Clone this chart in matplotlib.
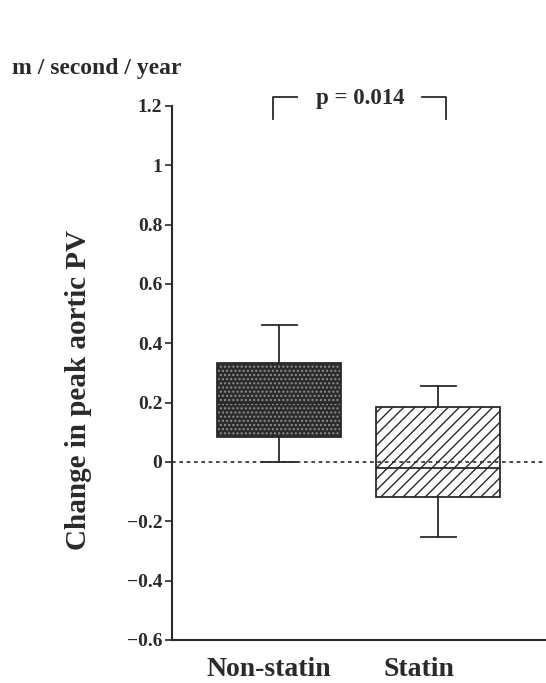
import matplotlib
matplotlib.use("Agg")
import matplotlib.pyplot as plt
from matplotlib.patches import PathPatch

# values (m / second / year)
groups = ["Non-statin", "Statin"]
whisker_low = [0.0, -0.253]
quart_1 = [0.084, -0.118]
medians = [0.20, -0.02]
quart_3 = [0.334, 0.185]
whisker_high = [0.462, 0.256]
p_text = "p = 0.014"

plt.rcParams["font.family"] = ["Liberation Serif", "DejaVu Serif"]
plt.rcParams["font.weight"] = "bold"
plt.rcParams["hatch.linewidth"] = 1.0
INK = "#2a2a2a"

fig = plt.figure(figsize=(5.46, 6.83), dpi=100)
ax = fig.add_axes([0.315, 0.063, 0.685, 0.782])

stats = [
    dict(label=g, whislo=lo, q1=a, med=m, q3=b, whishi=hi, fliers=[])
    for g, lo, a, m, b, hi in zip(
        groups, whisker_low, quart_1, medians, quart_3, whisker_high
    )
]
positions = [1, 2]
art = ax.bxp(
    stats,
    positions=positions,
    widths=0.775,
    patch_artist=True,
    showfliers=False,
    boxprops=dict(linewidth=1.3, edgecolor=INK),
    whiskerprops=dict(linewidth=1.3, color=INK),
    capprops=dict(linewidth=1.3, color=INK),
    medianprops=dict(linewidth=1.3, color=INK),
    capwidths=0.22,
    zorder=3,
)

# dark stippled box for non-statin
b0 = art["boxes"][0]
b0.set_facecolor("#2c2c2c")
b0.set_edgecolor("#8e8e8e")
b0.set_hatch("....")
b0.set_linewidth(0)
ax.add_patch(PathPatch(b0.get_path(), fill=False, edgecolor=INK,
                       linewidth=1.3, zorder=4))

# hatched box for statin
b1 = art["boxes"][1]
b1.set_facecolor("white")
b1.set_hatch("///")

# zero reference line
ax.axhline(0, color=INK, linestyle=(0, (2.2, 2.2)), linewidth=1.2,
           zorder=5, clip_on=False)

ax.set_xlim(0.327, 2.679)
ax.set_ylim(-0.6, 1.2)
ax.set_yticks([-0.6, -0.4, -0.2, 0, 0.2, 0.4, 0.6, 0.8, 1, 1.2])
ax.set_yticklabels(["\u22120.6", "\u22120.4", "\u22120.2", "0", "0.2", "0.4",
                    "0.6", "0.8", "1", "1.2"])
ax.tick_params(axis="y", direction="out", length=5, width=1.2, colors=INK,
               labelsize=14, pad=2)
ax.set_xticks([0.937, 1.88])
ax.set_xticklabels(groups)
ax.tick_params(axis="x", length=0, labelsize=20, pad=12, colors=INK)

for s in ("top", "right"):
    ax.spines[s].set_visible(False)
for s in ("left", "bottom"):
    ax.spines[s].set_linewidth(1.5)
    ax.spines[s].set_color(INK)

fig.text(0.143, 0.429, "Change in peak aortic PV", rotation=90,
         ha="center", va="center", fontsize=21, color=INK)

# significance bracket
lw_b = 1.3
ax.plot([0.962, 0.962, 1.113], [1.156, 1.230, 1.230], color=INK, lw=lw_b,
        clip_on=False)
ax.plot([1.899, 2.05, 2.05], [1.230, 1.230, 1.156], color=INK, lw=lw_b,
        clip_on=False)
ax.text(1.509, 1.226, p_text, ha="center", va="center", fontsize=16.5,
        color=INK)

fig.text(0.022, 0.900, "m / second / year", ha="left", va="center",
         fontsize=17, color=INK)

fig.savefig("out.png", dpi=100, facecolor="white")
